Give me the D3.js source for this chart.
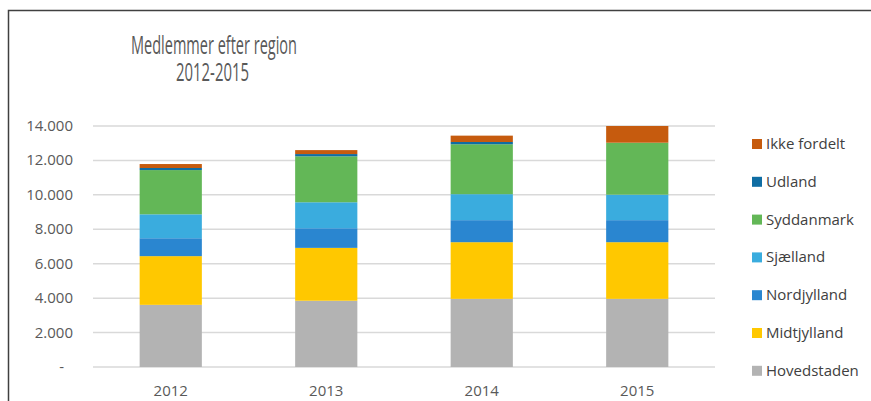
<!DOCTYPE html>
<html>
  <head>
    <meta charset="utf-8" />
    <title> Medlemmer efter region </title>
    <script src="https://d3js.org/d3.v7.min.js"></script>
    <style>
      body {
        margin: 0;
        background-color: white;
      }
      text {
        font-family: "Open Sans", sans-serif;
      }
    </style>
  </head>

  <body>
    <svg id="viz"></svg>

    <script>

    // data
    var years = ["2012", "2013", "2014", "2015"];
    var regions = ["Hovedstaden", "Midtjylland", "Nordjylland", "Sjælland", "Syddanmark", "Udland", "Ikke fordelt"];
    var hovedstaden = [3610, 3850, 3960, 3960];
    var midtjylland = [2830, 3070, 3290, 3290];
    var nordjylland = [1040, 1140, 1280, 1280];
    var sjaelland = [1390, 1510, 1510, 1480];
    var syddanmark = [2570, 2670, 2900, 3020];
    var udland = [120, 130, 130, 0];
    var ikkeFordelt = [230, 230, 370, 970];
    var yTicks = [0, 2000, 4000, 6000, 8000, 10000, 12000, 14000];
    var colors = ["#b3b3b3", "#ffc800", "#2a86d0", "#3aacde", "#63b757", "#0f6da3", "#c65b0e"];

    var series = [hovedstaden, midtjylland, nordjylland, sjaelland, syddanmark, udland, ikkeFordelt];

    var rows = years.map(function(y, i) {
      var r = { year: y };
      regions.forEach(function(name, k) { r[name] = series[k][i]; });
      return r;
    });

    var width = 871,
        height = 401;

    var svg = d3.select("#viz")
      .attr("width", width)
      .attr("height", height);

    // chart frame
    svg.append("path")
      .attr("d", "M8.5," + height + "V10.5H" + width)
      .attr("fill", "none")
      .attr("stroke", "#404040")
      .attr("stroke-width", 1.5);

    // title (Calibri is narrow, so squeeze to the same width)
    svg.append("text")
      .attr("x", 131)
      .attr("y", 54)
      .attr("textLength", 166)
      .attr("lengthAdjust", "spacingAndGlyphs")
      .attr("fill", "#595959")
      .style("font-size", "26px")
      .text("Medlemmer efter region");
    svg.append("text")
      .attr("x", 176)
      .attr("y", 81)
      .attr("textLength", 73)
      .attr("lengthAdjust", "spacingAndGlyphs")
      .attr("fill", "#595959")
      .style("font-size", "26px")
      .text("2012-2015");

    var x = d3.scaleBand().domain(years).range([93, 715]).paddingInner(0.6).paddingOuter(0.3);
    var y = d3.scaleLinear().domain([0, 14000]).range([367, 126]);

    // gridlines
    svg.append("g")
      .selectAll("line")
      .data(yTicks)
      .enter().append("line")
      .attr("x1", 93)
      .attr("x2", 715)
      .attr("y1", function(d) { return y(d); })
      .attr("y2", function(d) { return y(d); })
      .attr("stroke", "#d9d9d9")
      .attr("stroke-width", 1.5);

    // y labels
    var fmt = function(d) {
      return d === 0 ? "-" : d3.format(",")(d).replace(/,/g, ".");
    };
    svg.append("g")
      .selectAll("text")
      .data(yTicks)
      .enter().append("text")
      .attr("x", function(d) { return d === 0 ? 64 : 73; })
      .attr("y", function(d) { return y(d) + 5; })
      .attr("text-anchor", "end")
      .attr("fill", "#595959")
      .style("font-size", "15px")
      .text(fmt);

    // x labels
    svg.append("g")
      .selectAll("text")
      .data(years)
      .enter().append("text")
      .attr("x", function(d) { return x(d) + x.bandwidth() / 2; })
      .attr("y", 396)
      .attr("text-anchor", "middle")
      .attr("fill", "#595959")
      .style("font-size", "15px")
      .text(function(d) { return d; });

    // stacked bars
    var stack = d3.stack().keys(regions)(rows);

    svg.append("g")
      .selectAll("g")
      .data(stack)
      .enter().append("g")
      .attr("fill", function(d, i) { return colors[i]; })
      .selectAll("rect")
      .data(function(d) { return d; })
      .enter().append("rect")
      .attr("x", function(d) { return x(d.data.year); })
      .attr("width", x.bandwidth())
      .attr("y", function(d) { return y(d[1]); })
      .attr("height", function(d) { return y(d[0]) - y(d[1]); });

    // legend
    var legend = svg.append("g")
      .selectAll("g")
      .data(regions.slice().reverse())
      .enter().append("g")
      .attr("transform", function(d, i) { return "translate(752," + (144 + i * 37.8) + ")"; });

    legend.append("rect")
      .attr("x", 0)
      .attr("y", -5)
      .attr("width", 10)
      .attr("height", 10)
      .attr("fill", function(d) { return colors[regions.indexOf(d)]; });

    legend.append("text")
      .attr("x", 14)
      .attr("y", 5)
      .attr("fill", "#404040")
      .style("font-size", "15px")
      .text(function(d) { return d; });

    </script>
  </body>
</html>
